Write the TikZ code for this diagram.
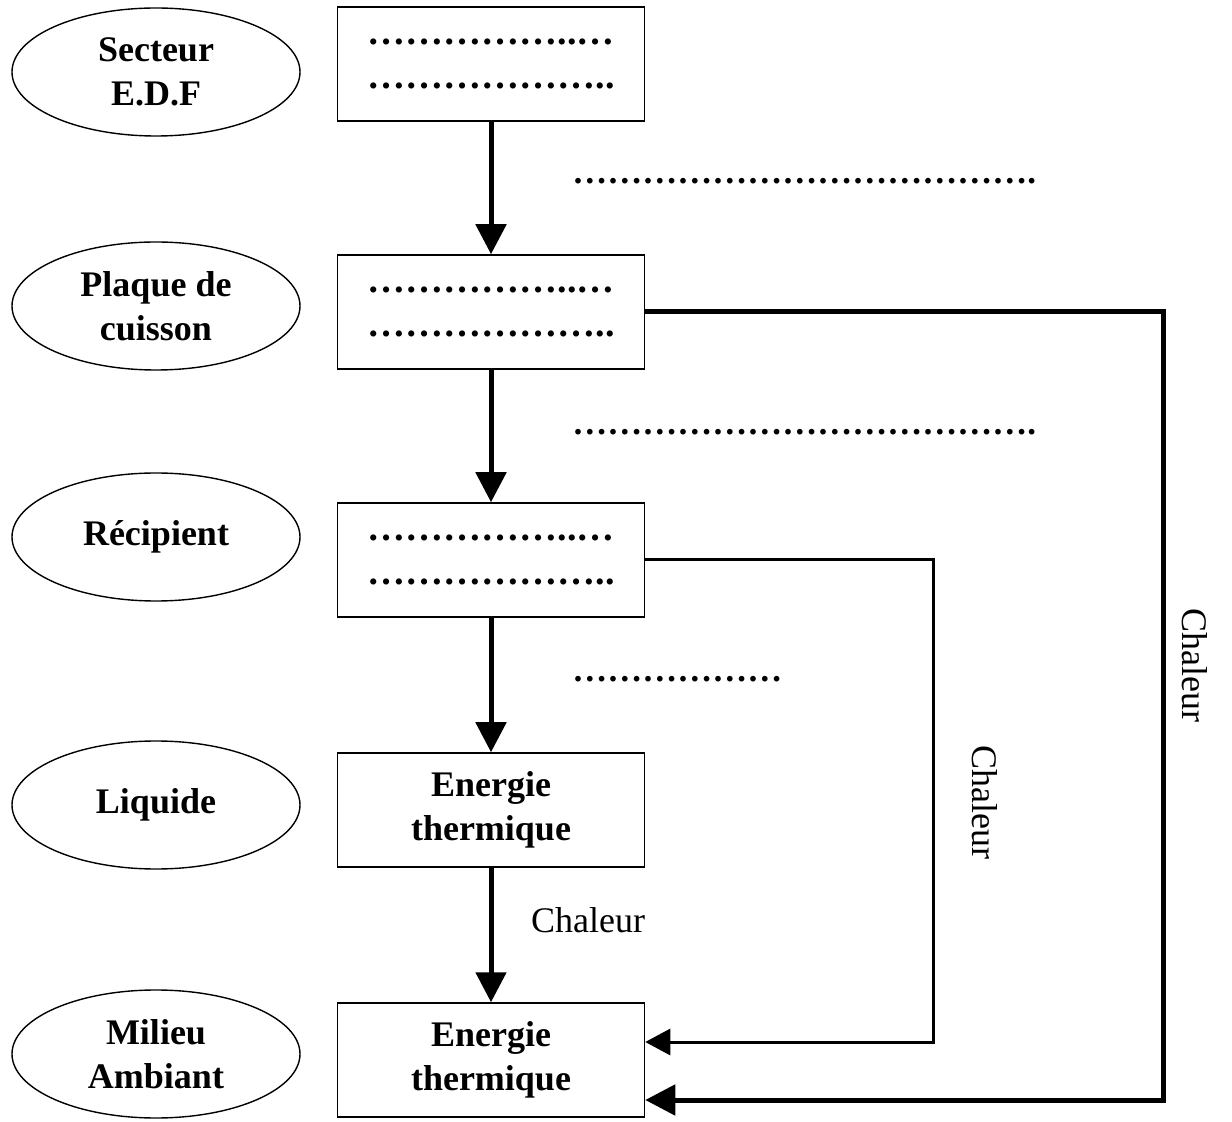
\documentclass[tikz,border=0pt]{standalone}
\usepackage{fontspec}
\setmainfont{Liberation Serif}
\usetikzlibrary{shapes.geometric, arrows.meta}

\begin{document}
\begin{tikzpicture}[x=0.5pt, y=-0.5pt,
  zone/.style={draw, ellipse, line width=0.7pt, minimum width=144pt, minimum height=64pt, inner sep=0pt, align=center, font=\fontsize{18}{22}\selectfont\bfseries},
  bloc/.style={draw, rectangle, line width=0.75pt, minimum width=153.5pt, minimum height=57pt, inner sep=0pt, align=center, font=\fontsize{18}{22}\selectfont\bfseries},
  blocpts/.style={bloc, font=\fontsize{19}{22}\selectfont\bfseries},
  fleche/.style={line width=2.5pt, -{Triangle[length=15pt, width=15pt]}},
  retour/.style={line width=1.5pt, -{Triangle[length=12.5pt, width=13pt]}},
  pointille/.style={anchor=west, inner sep=0pt, font=\fontsize{17.5}{22}\selectfont\bfseries},
  lbl/.style={inner sep=0pt, font=\fontsize{18}{22}\selectfont}]
  \useasboundingbox (0,0) rectangle (1232,1122);
  % colonne de gauche
  \node[zone] (e1) at (156,72) {Secteur\\E.D.F};
  \node[zone] (e2) at (156,306) {Plaque de\\cuisson};
  \node[zone] (e3) at (156,537) {Récipient};
  \node[zone] (e4) at (156,805) {Liquide};
  \node[zone] (e5) at (156,1054) {Milieu\\Ambiant};
  % chaine energetique
  \node[blocpts] (b1) at (491,64) {……………..…\\………………..};
  \node[blocpts] (b2) at (491,312) {……………..…\\………………..};
  \node[blocpts] (b3) at (491,560) {……………..…\\………………..};
  \node[bloc] (b4) at (491,810) {Energie\\thermique};
  \node[bloc] (b5) at (491,1060) {Energie\\thermique};
  \draw[fleche] (b1) -- (b2);
  \draw[fleche] (b2) -- (b3);
  \draw[fleche] (b3) -- (b4);
  \draw[fleche] (b4) -- (b5);
  \node[pointille] (t1) at (572,181) {………………………………….};
  \node[pointille] (t2) at (572,432) {………………………………….};
  \node[pointille] (t3) at (572,679) {………………};
  \node[lbl] (c1) at (588,920) {Chaleur};
  % pertes
  \coordinate (r1) at (1163,1100);
  \coordinate (r2) at (933,1042);
  \draw[fleche, line join=miter] (b2.east) -| (r1) -- (b5.east |- r1);
  \draw[retour, line join=miter] (b3.east) -| (r2) -- (b5.east |- r2);
  \node[lbl, rotate=-90] (c2) at (1195,665) {Chaleur};
  \node[lbl, rotate=-90] (c3) at (985,802) {Chaleur};
\end{tikzpicture}
\end{document}
